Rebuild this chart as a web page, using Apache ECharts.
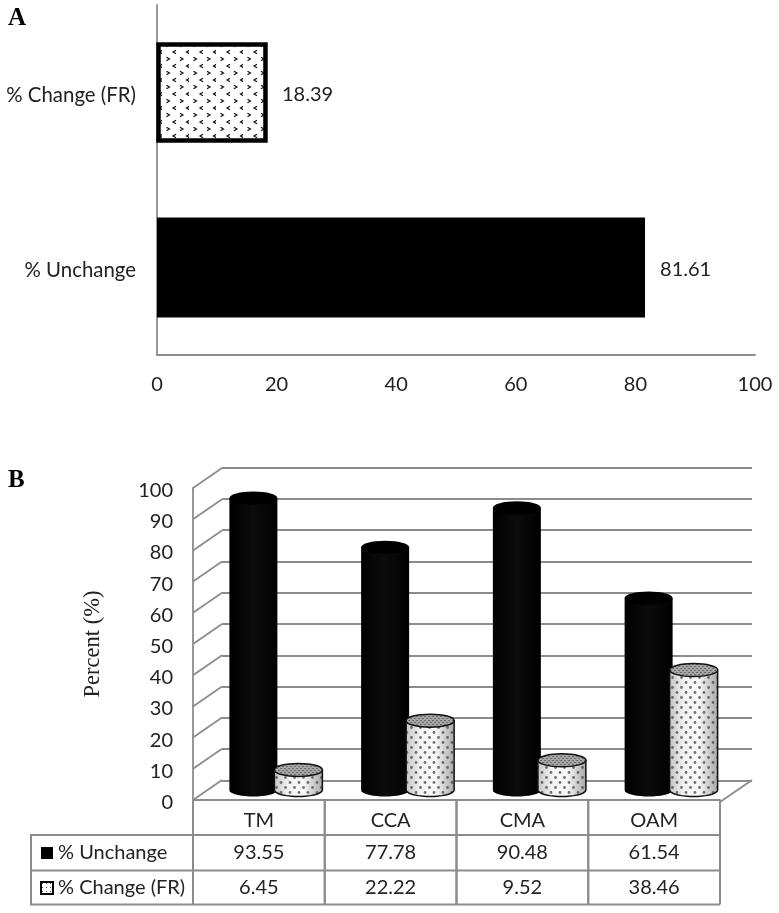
<!DOCTYPE html>
<html>
<head>
<meta charset="utf-8">
<style>
  html, body { margin: 0; padding: 0; background: #fff; }
  #chart { width: 779px; height: 913px; }
</style>
<script src="https://cdn.jsdelivr.net/npm/echarts@6/dist/echarts.min.js"></script>
</head>
<body>
<div id="chart"></div>
<script>
// panel A
const overallLabels = ['% Unchange', '% Change (FR)']
const overallValues = [81.61, 18.39]
const overallTicks = [0, 20, 40, 60, 80, 100]

// panel B
const groups = ['TM', 'CCA', 'CMA', 'OAM']
const unchanged = [93.55, 77.78, 90.48, 61.54]
const changed = [6.45, 22.22, 9.52, 38.46]
const percentTicks = [0, 10, 20, 30, 40, 50, 60, 70, 80, 90, 100]
const unchangedName = '% Unchange'
const changedName = '% Change (FR)'

const sans = 'Lato'
const serif = 'Liberation Serif'
const lineGrey = '#8c8c8c'
const textColor = '#222'
const fontSize = 20

function tile (w, h, draw) {
  const c = document.createElement('canvas')
  c.width = w
  c.height = h
  draw(c.getContext('2d'))
  return { image: c, repeat: 'repeat' }
}

// the < > fill of the panel A bar
const chevrons = tile(27, 14, ctx => {
  ctx.strokeStyle = '#111'
  ctx.lineWidth = 1.2
  const mark = (x, y, dir) => {
    ctx.beginPath()
    ctx.moveTo(x - dir, y - 1.8)
    ctx.lineTo(x + dir, y)
    ctx.lineTo(x - dir, y + 1.8)
    ctx.stroke()
  }
  mark(6, 3, 1.5); mark(19.5, 3, 1.5)
  mark(12.5, 10, -1.5); mark(26, 10, -1.5)
})
const dots = tile(9, 10, ctx => {
  ctx.fillStyle = 'rgba(80,80,80,0.8)'
  ;[[2, 2.5], [6.5, 7.5]].forEach(p => {
    ctx.beginPath()
    ctx.arc(p[0], p[1], 1.4, 0, Math.PI * 2)
    ctx.fill()
  })
})
const capFill = tile(4, 4, ctx => {
  ctx.fillStyle = '#a6a6a6'
  ctx.fillRect(0, 0, 4, 4)
  ctx.fillStyle = '#6a6a6a'
  ctx.fillRect(0, 0, 2, 1)
  ctx.fillRect(2, 2, 2, 1)
})
const legendFill = tile(4, 4, ctx => {
  ctx.fillStyle = '#fff'
  ctx.fillRect(0, 0, 4, 4)
  ctx.fillStyle = '#555'
  ctx.fillRect(1, 1, 1, 1)
})

function renderOverall (params, api) {
  const i = api.value(1)
  const v = api.value(0)
  const start = api.coord([0, i])
  const end = api.coord([v, i])
  const isChange = i === 1
  const barH = isChange ? 96 : 100
  return {
    type: 'group',
    children: [{
      type: 'rect',
      shape: {
        x: start[0] + (isChange ? 1.5 : 0),
        y: start[1] - barH / 2,
        width: end[0] - start[0] - (isChange ? 3 : 0),
        height: barH
      },
      style: isChange
        ? { fill: chevrons, stroke: '#000', lineWidth: 4.5, lineJoin: 'miter' }
        : { fill: '#000' }
    }, {
      type: 'text',
      style: {
        x: end[0] + 15,
        y: end[1] + 2,
        text: v.toFixed(2),
        fill: textColor,
        font: fontSize + 'px ' + sans,
        verticalAlign: 'middle'
      }
    }]
  }
}

// cylinders stand in the plane halfway between the front edge and the back wall
const DEPTH_X = 29
const DEPTH_Y = -20
const RX = 24
const RY = 6.5

function bodyPoints (cx, top, base) {
  const pts = [[cx - RX, top], [cx - RX, base]]
  for (let a = 180; a >= 0; a -= 10) {
    const r = a * Math.PI / 180
    pts.push([cx + RX * Math.cos(r), base + RY * Math.sin(r)])
  }
  pts.push([cx + RX, top])
  return pts
}

function cylinder (shift, hatched) {
  return function (params, api) {
    const i = api.value(0)
    const v = api.value(1)
    const cx = api.coord([i, 0])[0] + DEPTH_X / 2 + 2.5 + shift
    const base = api.coord([i, 0])[1] + DEPTH_Y / 2
    const top = api.coord([i, v])[1] + DEPTH_Y / 2
    const points = bodyPoints(cx, top, base)
    const cap = { cx: cx, cy: top, rx: RX, ry: RY }
    if (!hatched) {
      return {
        type: 'group',
        children: [
          {
            type: 'polygon',
            shape: { points: points },
            style: {
              fill: new echarts.graphic.LinearGradient(0, 0, 1, 0, [
                { offset: 0, color: '#000' },
                { offset: 0.5, color: '#0c0c0c' },
                { offset: 1, color: '#000' }
              ])
            }
          },
          { type: 'ellipse', shape: cap, style: { fill: '#000' } }
        ]
      }
    }
    return {
      type: 'group',
      children: [
        {
          type: 'polygon',
          shape: { points: points },
          style: {
            fill: new echarts.graphic.LinearGradient(0, 0, 1, 0, [
              { offset: 0, color: '#c4c4c4' },
              { offset: 0.3, color: '#f4f4f4' },
              { offset: 0.6, color: '#fafafa' },
              { offset: 1, color: '#a8a8a8' }
            ])
          }
        },
        {
          type: 'polygon',
          shape: { points: points },
          style: { fill: dots, stroke: '#111', lineWidth: 1.5 }
        },
        {
          type: 'ellipse',
          shape: cap,
          style: { fill: capFill, stroke: '#111', lineWidth: 1.5 }
        }
      ]
    }
  }
}

// slanted lines on the side wall and the right edge of the floor
function renderWall (params, api) {
  const tick = api.value(1)
  const y = api.coord([0, tick])[1]
  const x = params.coordSys.x
  const children = [{
    type: 'line',
    shape: { x1: x, y1: y, x2: x + DEPTH_X, y2: y + DEPTH_Y },
    style: { stroke: lineGrey, lineWidth: 1.8 }
  }]
  if (tick === 0) {
    const right = x + params.coordSys.width
    children.push({
      type: 'line',
      shape: { x1: right, y1: y + 2, x2: right + 32, y2: y + DEPTH_Y },
      style: { stroke: lineGrey, lineWidth: 1.8 }
    })
  }
  return { type: 'group', children: children }
}

const rowY = [35, 70.5, 104.5]

function renderTable (params, api) {
  const i = api.value(0)
  const pos = api.coord([i, 0])
  const band = api.size([1, 0])[0]
  const left = pos[0] - band / 2
  const right = pos[0] + band / 2
  const border = { stroke: lineGrey, lineWidth: 2 }
  const children = []
  rowY.forEach(dy => {
    children.push({
      type: 'line',
      shape: { x1: left, y1: pos[1] + dy, x2: right, y2: pos[1] + dy },
      style: border
    })
  })
  ;[left, right].forEach(x => {
    children.push({
      type: 'line',
      shape: { x1: x, y1: pos[1], x2: x, y2: pos[1] + rowY[2] },
      style: border
    })
  })
  ;[unchanged[i], changed[i]].forEach((v, r) => {
    children.push({
      type: 'text',
      style: {
        x: pos[0],
        y: pos[1] + (rowY[r] + rowY[r + 1]) / 2,
        text: v.toFixed(2),
        fill: textColor,
        font: fontSize + 'px ' + sans,
        align: 'center',
        verticalAlign: 'middle'
      }
    })
  })
  return { type: 'group', children: children }
}

const labelStyle = { color: textColor, fontFamily: sans, fontSize: fontSize }
const axisStroke = { show: true, lineStyle: { color: lineGrey, width: 1.8 } }

const option = {
  animation: false,
  backgroundColor: '#fff',
  grid: [
    { left: 157, top: 5, width: 598, height: 350 },
    { left: 193, top: 488, width: 527, height: 312 },
    { left: 222, top: 467.5, width: 530, height: 313 }
  ],
  xAxis: [
    {
      gridIndex: 0,
      type: 'value',
      min: overallTicks[0],
      max: overallTicks[overallTicks.length - 1],
      interval: 20,
      axisLine: axisStroke,
      axisTick: { show: false },
      splitLine: { show: false },
      axisLabel: Object.assign({ margin: 20 }, labelStyle)
    },
    {
      gridIndex: 1,
      type: 'category',
      data: groups,
      axisLine: axisStroke,
      axisTick: { show: false },
      axisLabel: Object.assign({ margin: 11 }, labelStyle)
    },
    {
      gridIndex: 2,
      type: 'category',
      data: groups,
      show: false
    }
  ],
  yAxis: [
    {
      gridIndex: 0,
      type: 'category',
      data: overallLabels,
      axisLine: axisStroke,
      axisTick: { show: false },
      axisLabel: Object.assign({ margin: 21, verticalAlign: 'top', lineHeight: 5 }, labelStyle, { fontSize: 20.4 })
    },
    {
      gridIndex: 1,
      type: 'value',
      min: 0,
      max: 100,
      interval: 10,
      name: 'Percent (%)',
      nameLocation: 'middle',
      nameRotate: 90,
      nameGap: 88,
      nameTextStyle: { color: textColor, fontFamily: serif, fontSize: 22.5 },
      axisLine: axisStroke,
      axisTick: { show: false },
      splitLine: { show: false },
      axisLabel: {
        margin: 20,
        verticalAlign: 'top',
        lineHeight: 5,
        color: textColor,
        fontFamily: sans,
        fontSize: fontSize
      }
    },
    {
      gridIndex: 2,
      type: 'value',
      min: 0,
      max: 100,
      interval: 10,
      axisLine: { show: false },
      axisTick: { show: false },
      axisLabel: { show: false },
      splitLine: { show: true, lineStyle: { color: lineGrey, width: 1.8 } }
    }
  ],
  legend: {
    orient: 'vertical',
    left: 40,
    top: 843,
    itemWidth: 12,
    itemHeight: 12,
    itemGap: 15,
    padding: 0,
    textStyle: { color: textColor, fontFamily: sans, fontSize: fontSize },
    data: [
      { name: unchangedName, icon: 'rect', itemStyle: { color: '#000' } },
      { name: changedName, icon: 'rect', itemStyle: { color: legendFill, borderColor: '#000', borderWidth: 2 } }
    ]
  },
  graphic: [
    {
      type: 'text',
      left: 8,
      top: 6,
      style: { text: 'A', fill: '#000', font: 'bold 25px ' + serif }
    },
    {
      type: 'text',
      left: 8,
      top: 468,
      style: { text: 'B', fill: '#000', font: 'bold 25px ' + serif }
    },
    {
      type: 'rect',
      shape: { x: 31, y: 835, width: 162, height: 69.5 },
      style: { fill: 'none', stroke: lineGrey, lineWidth: 2 },
      z: 1
    },
    {
      type: 'line',
      shape: { x1: 31, y1: 870.5, x2: 193, y2: 870.5 },
      style: { stroke: lineGrey, lineWidth: 2 },
      z: 1
    }
  ],
  series: [
    {
      type: 'custom',
      name: 'overall',
      xAxisIndex: 0,
      yAxisIndex: 0,
      renderItem: renderOverall,
      encode: { x: 0, y: 1 },
      data: overallValues.map((v, i) => [v, i]),
      z: 3
    },
    {
      type: 'custom',
      name: 'wall',
      xAxisIndex: 1,
      yAxisIndex: 1,
      renderItem: renderWall,
      encode: { x: 0, y: 1 },
      data: percentTicks.map(t => [0, t]),
      z: 1
    },
    {
      type: 'custom',
      name: 'table',
      xAxisIndex: 1,
      yAxisIndex: 1,
      renderItem: renderTable,
      encode: { x: 0, y: 1 },
      data: groups.map((g, i) => [i, 0]),
      z: 1
    },
    {
      type: 'custom',
      name: unchangedName,
      xAxisIndex: 1,
      yAxisIndex: 1,
      renderItem: cylinder(-22.5, false),
      encode: { x: 0, y: 1 },
      data: unchanged.map((v, i) => [i, v]),
      itemStyle: { color: '#000' },
      z: 3
    },
    {
      type: 'custom',
      name: changedName,
      xAxisIndex: 1,
      yAxisIndex: 1,
      renderItem: cylinder(22.5, true),
      encode: { x: 0, y: 1 },
      data: changed.map((v, i) => [i, v]),
      itemStyle: { color: legendFill, borderColor: '#000', borderWidth: 2 },
      z: 4
    }
  ]
}

const myChart = echarts.init(document.getElementById('chart'), null, { renderer: 'canvas' })
myChart.setOption(option)
</script>
</body>
</html>
